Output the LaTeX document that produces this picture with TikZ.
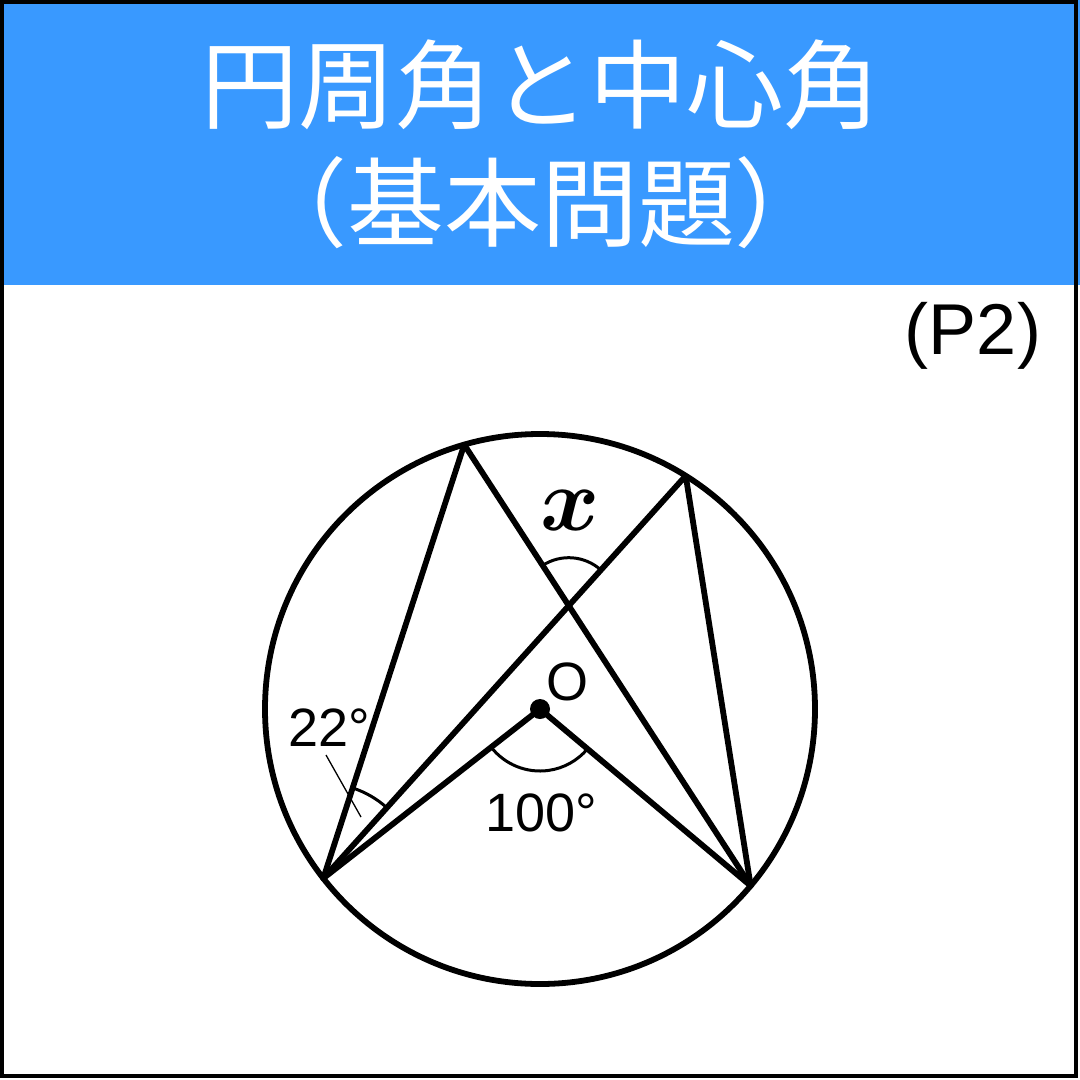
\documentclass[tikz,border=0pt]{standalone}
\usepackage{fontspec}
\setmainfont{Liberation Sans}
\newfontfamily\jpfont{Noto Sans CJK JP}
\usetikzlibrary{intersections}
\definecolor{headblue}{RGB}{57,153,255}
\tikzset{
  geo/.style={line width=5.8pt, line cap=round, line join=round},
  anglearc/.style={line width=3pt},
  lbl/.style={inner sep=0pt, font=\fontsize{54}{54}\selectfont},
  titletext/.style={inner sep=0pt, text=white, anchor=base, font=\jpfont\fontsize{97}{97}\selectfont}
}
\begin{document}
\begin{tikzpicture}[x=1pt,y=1pt]
\useasboundingbox (0,0) rectangle (1080,-1080);
% header
\fill[headblue] (0,0) rectangle (1080,-285);
\node[titletext] (t1) at (541,-121) {円周角と中心角};
\node[titletext] (t2) at (541,-239) {（基本問題）};
\draw[line width=4pt] (2,-2) rectangle (1076,-1076);
\node[inner sep=0pt, anchor=base, font=\fontsize{72}{72}\selectfont] (p2) at (973,-354) {(P2)};
% geometry
\coordinate (O) at (540,-709);
\coordinate (A) at ([shift={(218:275)}]O);
\coordinate (B) at ([shift={(320:275)}]O);
\coordinate (C) at ([shift={(106:275)}]O);
\coordinate (D) at ([shift={(58:275)}]O);
\draw[geo] (O) circle[radius=275];
\draw[geo] (A) -- (D) -- (B);
\draw[geo] (A) -- (C) -- (B);
\path[name path=CBline] (C) -- (B);
\path[name path=ADline] (A) -- (D);
\path[name intersections={of=CBline and ADline, by=P}];
\draw[geo] (A) -- (O) -- (B);
\fill (O) circle[radius=10];
% angle arcs
\draw[anglearc] ([shift={(48:95)}]A) arc[start angle=48, end angle=72, radius=95];
\draw[anglearc] ([shift={(48:48)}]P) arc[start angle=48, end angle=123, radius=48];
\draw[anglearc] ([shift={(218:62)}]O) arc[start angle=218, end angle=320, radius=62];
% labels
\node[lbl] (l22) at (329,-728) {22°};
\coordinate (lead1) at (326,-755);
\coordinate (lead2) at (361,-817);
\draw[line width=1.3pt] (lead1) -- (lead2);
\node[lbl] (l100) at (541,-813) {100°};
\node[lbl] (lO) at (567,-682) {O};
\node[inner sep=0pt, scale=9, font=\boldmath] (lx) at (570,-510) {$x$};
\end{tikzpicture}
\end{document}
